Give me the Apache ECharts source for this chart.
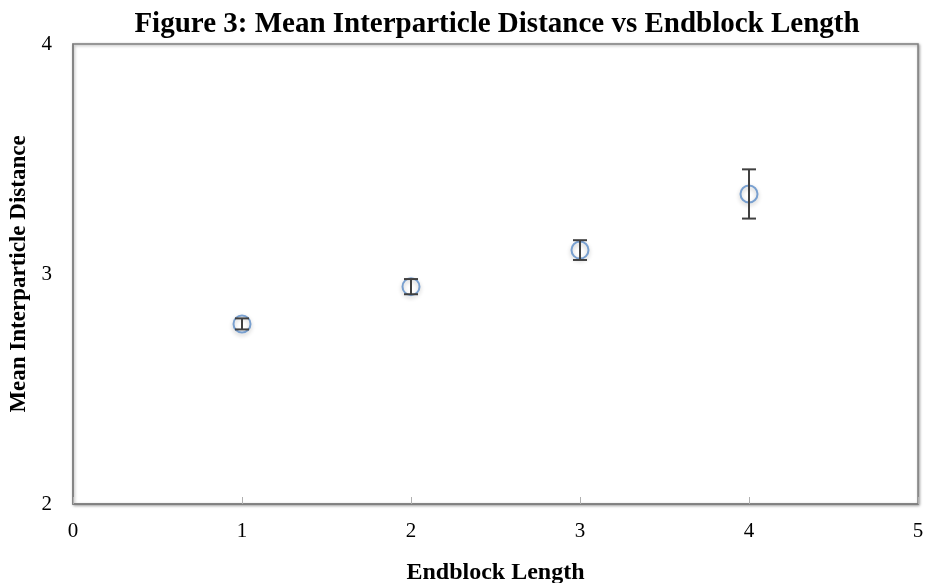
<!DOCTYPE html>
<html><head><meta charset="utf-8">
<script src="https://cdn.jsdelivr.net/npm/echarts@6/dist/echarts.min.js"></script>
<style>html,body{margin:0;padding:0;background:#fff}#c{width:927px;height:583px}</style>
</head><body><div id="c"></div>
<script>
const endblockLength = [1, 2, 3, 4];
const meanDistance = [2.783, 2.945, 3.104, 3.348];
const errorAmount = [0.024, 0.033, 0.043, 0.107];
const xTicks = [0, 1, 2, 3, 4, 5];
const yTicks = [2, 3, 4];

const font = '"Liberation Serif", serif';
const chart = echarts.init(document.getElementById('c'));
const pts = endblockLength.map((x, i) => [x, meanDistance[i]]);
const errs = endblockLength.map((x, i) => [x, meanDistance[i] - errorAmount[i], meanDistance[i] + errorAmount[i]]);
chart.setOption({
  animation: false,
  title: {
    text: 'Figure 3: Mean Interparticle Distance vs Endblock Length',
    left: 492, top: 5, textAlign: 'center',
    textStyle: {fontFamily: font, fontWeight: 'bold', fontSize: 29, color: '#000'}
  },
  grid: {left: 73, right: 9, top: 44, bottom: 79, outerBoundsMode: 'none', containLabel: false,
    show: true, borderColor: '#7f7f7f', borderWidth: 1.5, backgroundColor: '#fff',
    shadowBlur: 3, shadowColor: 'rgba(0,0,0,0.35)', shadowOffsetX: 1, shadowOffsetY: 1},
  xAxis: {
    type: 'value', min: xTicks[0], max: xTicks[xTicks.length - 1], interval: 1,
    name: 'Endblock Length', nameLocation: 'middle', nameGap: 57,
    nameTextStyle: {fontFamily: font, fontWeight: 'bold', fontSize: 24, color: '#000'},
    axisLine: {show: true, lineStyle: {color: '#7f7f7f', width: 1.5}},
    axisTick: {show: true, inside: true, length: 7, lineStyle: {color: '#b0b0b0'}},
    axisLabel: {fontFamily: font, fontSize: 21, color: '#000', margin: 17},
    splitLine: {show: false}
  },
  yAxis: {
    type: 'value', min: yTicks[0], max: yTicks[yTicks.length - 1], interval: 1,
    name: 'Mean Interparticle Distance', nameLocation: 'middle', nameGap: 42,
    nameTextStyle: {fontFamily: font, fontWeight: 'bold', fontSize: 23, color: '#000'},
    axisLine: {show: true, lineStyle: {color: '#7f7f7f', width: 1.5}},
    axisTick: {show: false},
    axisLabel: {fontFamily: font, fontSize: 21, color: '#000', margin: 21},
    splitLine: {show: false}
  },
  series: [
    {
      type: 'scatter', data: pts, symbol: 'circle', symbolSize: 17, z: 2,
      itemStyle: {color: 'rgba(255,255,255,0)', borderColor: '#5b8cc8', borderWidth: 2,
        shadowBlur: 4, shadowColor: 'rgba(0,0,0,0.3)', shadowOffsetY: 2}
    },
    {
      type: 'custom', data: errs, z: 3,
      renderItem: function (params, api) {
        const x = api.value(0);
        const lo = api.coord([x, api.value(1)]);
        const hi = api.coord([x, api.value(2)]);
        const w = 7;
        const st = {stroke: '#404040', lineWidth: 2};
        return {type: 'group', children: [
          {type: 'line', shape: {x1: lo[0], y1: lo[1], x2: hi[0], y2: hi[1]}, style: st},
          {type: 'line', shape: {x1: lo[0] - w, y1: lo[1], x2: lo[0] + w, y2: lo[1]}, style: st},
          {type: 'line', shape: {x1: hi[0] - w, y1: hi[1], x2: hi[0] + w, y2: hi[1]}, style: st}
        ]};
      }
    }
  ]
});
</script></body></html>
